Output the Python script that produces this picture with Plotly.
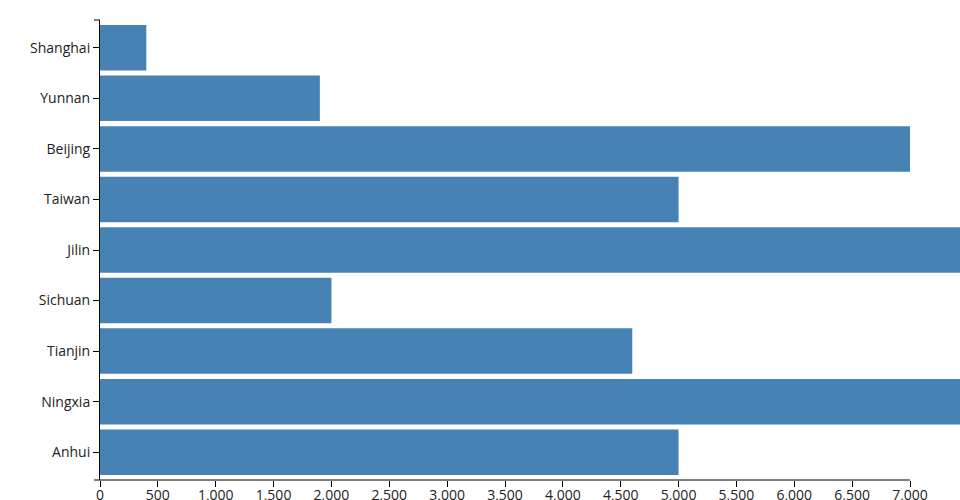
import plotly.graph_objects as go

categories = ["Shanghai", "Yunnan", "Beijing", "Taiwan", "Jilin", "Sichuan", "Tianjin", "Ningxia", "Anhui"]
values = [400, 1900, 7000, 5000, 7800, 2000, 4600, 8200, 5000]
tick_vals = list(range(0, 7001, 500))
tick_text = [f"{v:,}" for v in tick_vals]

W, H = 960, 500
ml, mr, mt, mb = 100, 0, 20, 20
pw = W - ml - mr
axis_max = 7000
x_max = axis_max * pw / 810.0

fig = go.Figure(go.Bar(
    x=values, y=categories, orientation="h",
    marker=dict(color="#4682b4", line=dict(width=0)),
    hoverinfo="x+y",
))

font = dict(family="Open Sans", size=14, color="#222")

fig.update_layout(
    width=W, height=H,
    margin=dict(l=ml, r=mr, t=mt, b=mb, autoexpand=False),
    paper_bgcolor="white", plot_bgcolor="white",
    bargap=0.1,
    showlegend=False,
    font=font,
    xaxis=dict(
        range=[0, x_max], tickvals=tick_vals, ticktext=tick_text,
        ticks="outside", ticklen=6, tickcolor="black", tickwidth=1,
        showline=False, showgrid=False, zeroline=False, tickfont=font,
        automargin=False, ticklabelstandoff=-4,
    ),
    yaxis=dict(
        type="category", categoryorder="array", categoryarray=categories,
        range=[len(categories) - 1 + 0.55, -0.55],
        ticks="outside", ticklen=6, tickcolor="black", tickwidth=1,
        showline=True, linecolor="black", linewidth=1,
        showgrid=False, zeroline=False, tickfont=font, automargin=False,
    ),
    shapes=[
        dict(type="line", xref="x", yref="paper", x0=0, x1=axis_max, y0=0, y1=0,
             line=dict(color="black", width=1)),
        dict(type="line", xref="paper", yref="paper", x0=-6.0 / pw, x1=0, y0=0, y1=0,
             line=dict(color="black", width=1)),
        dict(type="line", xref="paper", yref="paper", x0=-6.0 / pw, x1=0, y0=1, y1=1,
             line=dict(color="black", width=1)),
    ],
)

fig.write_html(
    "out.html",
    config={"displayModeBar": False},
    post_script="document.body.style.margin='0';document.body.style.overflow='hidden';",
)
